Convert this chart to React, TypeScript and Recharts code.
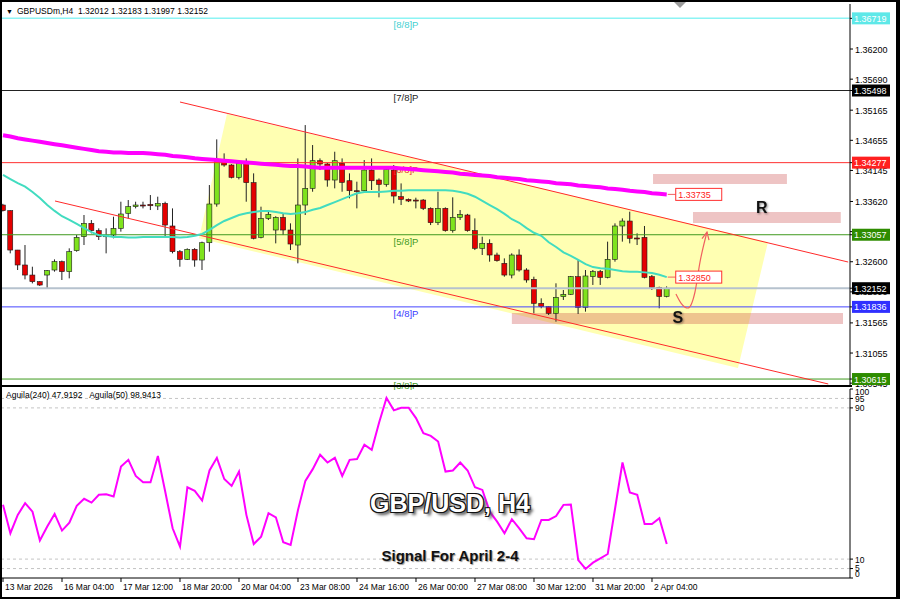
import React from "react";
import {
  ComposedChart,
  Bar,
  Line,
  Area,
  XAxis,
  YAxis,
  ReferenceLine,
  ReferenceArea,
  ReferenceDot,
} from "recharts";

// GBPUSD H4 candles (oldest -> newest)
const opens = [
  1.3356, 1.33464, 1.32798, 1.32545, 1.32375, 1.32263, 1.32375, 1.3246, 1.32601, 1.32432,
  1.32787, 1.33024, 1.3325, 1.33126, 1.3303, 1.33052, 1.33165, 1.33419, 1.33532, 1.3356,
  1.33571, 1.33543, 1.33588, 1.33205, 1.3277, 1.3264, 1.3281, 1.32629, 1.32922, 1.33577,
  1.34293, 1.34237, 1.34028, 1.34265, 1.33938, 1.33013, 1.33334, 1.33137, 1.33351, 1.33137,
  1.32883, 1.3356, 1.33842, 1.3431, 1.34254, 1.33983, 1.34265, 1.33971, 1.33802, 1.33802,
  1.34152, 1.33983, 1.33909, 1.34152, 1.33701, 1.33656, 1.33644, 1.33644, 1.33503, 1.33261,
  1.33503, 1.33126, 1.33351, 1.33391, 1.33126, 1.32827, 1.32911, 1.32714, 1.32573, 1.32375,
  1.32714, 1.3246, 1.32302, 1.31896, 1.3184, 1.31727, 1.32009, 1.32049, 1.32347, 1.31829,
  1.32347, 1.32432, 1.32336, 1.32641, 1.33205, 1.33289, 1.33002, 1.33013, 1.32347, 1.32167,
  1.32012,
];
const highs = [
  1.3358, 1.3347, 1.328, 1.32883, 1.32516, 1.3227, 1.3246, 1.3264, 1.3262, 1.32827,
  1.33052, 1.33391, 1.33306, 1.33165, 1.33165, 1.33362, 1.33616, 1.33644, 1.33616, 1.33616,
  1.33729, 1.33701, 1.33616, 1.33503, 1.32798, 1.32827, 1.3283, 1.3294, 1.33898, 1.34671,
  1.34434, 1.3425, 1.34293, 1.34349, 1.34096, 1.33532, 1.33447, 1.3337, 1.33419, 1.3325,
  1.34349, 1.34913, 1.34575, 1.34349, 1.3427, 1.34462, 1.34349, 1.34096, 1.33955, 1.34321,
  1.34349, 1.34011, 1.34208, 1.34237, 1.33926, 1.3367, 1.33684, 1.3366, 1.3352, 1.33785,
  1.3352, 1.3369, 1.33475, 1.3341, 1.33334, 1.33024, 1.32979, 1.32753, 1.32657, 1.32742,
  1.3281, 1.3249, 1.32347, 1.31981, 1.3185, 1.32235, 1.32122, 1.32359, 1.32629, 1.3246,
  1.3246, 1.3246, 1.3294, 1.3325, 1.33334, 1.33447, 1.33081, 1.33205, 1.32376, 1.32178,
  1.32183,
];
const lows = [
  1.3345, 1.32742, 1.3246, 1.32302, 1.32234, 1.3219, 1.3215, 1.32432, 1.32291, 1.32319,
  1.3277, 1.32883, 1.3308, 1.32968, 1.32742, 1.32996, 1.33109, 1.33334, 1.33503, 1.33503,
  1.33475, 1.33475, 1.33024, 1.32742, 1.32516, 1.32629, 1.32516, 1.3246, 1.3277, 1.33532,
  1.34208, 1.34011, 1.33994, 1.33616, 1.32979, 1.32996, 1.33306, 1.32911, 1.33052, 1.32798,
  1.32573, 1.33391, 1.33785, 1.34152, 1.3387, 1.33842, 1.33785, 1.33673, 1.33503, 1.33785,
  1.33814, 1.3369, 1.3387, 1.33588, 1.3356, 1.3361, 1.33503, 1.33475, 1.33221, 1.33221,
  1.33109, 1.33092, 1.33306, 1.33109, 1.32798, 1.32714, 1.32601, 1.32601, 1.32347, 1.32319,
  1.32432, 1.32246, 1.31727, 1.31812, 1.31699, 1.31586, 1.31953, 1.32038, 1.31716, 1.31755,
  1.32207, 1.32207, 1.32319, 1.32601, 1.3294, 1.32911, 1.32883, 1.32319, 1.32122, 1.31812,
  1.31997,
];
const closes = [
  1.33464, 1.32798, 1.32545, 1.32375, 1.32263, 1.32206, 1.32449, 1.32601, 1.32432, 1.3277,
  1.33013, 1.3325, 1.33126, 1.33024, 1.3304, 1.33165, 1.33408, 1.33532, 1.3356, 1.33555,
  1.33548, 1.33588, 1.33221, 1.3277, 1.3264, 1.3281, 1.32629, 1.32922, 1.33577, 1.34293,
  1.34237, 1.34028, 1.34265, 1.33938, 1.32996, 1.33334, 1.33402, 1.33351, 1.33137, 1.329,
  1.3356, 1.33842, 1.3431, 1.34254, 1.33983, 1.3431, 1.33943, 1.33802, 1.33796, 1.34152,
  1.33971, 1.33909, 1.34163, 1.33712, 1.33656, 1.33628, 1.3364, 1.33503, 1.33261, 1.33503,
  1.33126, 1.33351, 1.33402, 1.33126, 1.32827, 1.32911, 1.32714, 1.32618, 1.32375, 1.32714,
  1.3246, 1.32291, 1.31896, 1.3184, 1.31727, 1.31998, 1.32049, 1.32347, 1.31829, 1.32359,
  1.32432, 1.32336, 1.32641, 1.33205, 1.33289, 1.32996, 1.32996, 1.32336, 1.32167, 1.32012,
  1.32152,
];

// moving averages (magenta = slow, turquoise = fast)
const slowMA = [
  1.3474, 1.3472, 1.3469, 1.3467, 1.3465, 1.3463, 1.3461, 1.3459, 1.3457, 1.3455,
  1.3453, 1.3451, 1.3449, 1.3447, 1.3446, 1.3445, 1.3445, 1.3444, 1.3444, 1.3444,
  1.3443, 1.3442, 1.3441, 1.3439, 1.3438, 1.3437, 1.3435, 1.3434, 1.3433, 1.3432,
  1.3431, 1.343, 1.3429, 1.3428, 1.3427, 1.3426, 1.3425, 1.3424, 1.3423, 1.3422,
  1.3422, 1.3421, 1.342, 1.3419, 1.3419, 1.3419, 1.3419, 1.3419, 1.3419, 1.3419,
  1.3419, 1.3419, 1.3419, 1.3419, 1.3418, 1.3417, 1.3416, 1.3415, 1.3414, 1.3413,
  1.3412, 1.3411, 1.3409, 1.3408, 1.3407, 1.3406, 1.3405, 1.3403, 1.3402, 1.3401,
  1.34, 1.3398, 1.3397, 1.3396, 1.3395, 1.3393, 1.3392, 1.3391, 1.3389, 1.3388,
  1.3387, 1.3386, 1.3384, 1.3383, 1.3382, 1.338, 1.3379, 1.3378, 1.3376, 1.3375,
  1.3374,
];
const fastMA = [
  1.3407, 1.34, 1.3393, 1.3387, 1.3378, 1.3368, 1.3356, 1.3346, 1.3337, 1.3331,
  1.3324, 1.3317, 1.331, 1.3305, 1.3304, 1.3302, 1.3302, 1.3301, 1.3301, 1.3302,
  1.3302, 1.3302, 1.3302, 1.3302, 1.3301, 1.3302, 1.3304, 1.3307, 1.3314, 1.3322,
  1.3329, 1.3334, 1.3339, 1.3342, 1.3344, 1.3346, 1.3346, 1.3344, 1.3342, 1.3341,
  1.3342, 1.3344, 1.3348, 1.3351, 1.3356, 1.3361, 1.3366, 1.3371, 1.3376, 1.3378,
  1.3378, 1.3378, 1.3379, 1.338, 1.338, 1.3381, 1.3381, 1.3381, 1.3381, 1.3381,
  1.3381, 1.338, 1.3378, 1.3375, 1.337, 1.3363, 1.3356, 1.3349, 1.3341, 1.3332,
  1.3326, 1.3317, 1.3309, 1.3304, 1.3293, 1.3285, 1.3276, 1.327, 1.3263, 1.3256,
  1.3251, 1.3249, 1.3248, 1.3246, 1.3244, 1.3243, 1.3243, 1.3242, 1.3241, 1.3238,
  1.3234,
];

// Aguila oscillator (lower panel)
const aguila = [
  38.7, 23.7, 33.4, 39.6, 35.1, 19.8, 27.2, 33.9, 25.1, 29.3,
  38.2, 41.9, 39.9, 44.0, 44.3, 43.1, 59.0, 62.5, 54.0, 50.7,
  50.7, 64.6, 45.6, 26.3, 16.6, 48.0, 46.1, 41.0, 56.9, 63.6,
  52.4, 48.7, 56.3, 33.4, 18.0, 21.9, 34.3, 32.1, 18.9, 17.5,
  36.0, 51.4, 57.6, 65.2, 61.1, 63.6, 54.0, 62.5, 62.9, 70.5,
  67.8, 82.3, 95.2, 88.7, 90.1, 90.1, 84.6, 76.6, 75.2, 72.2,
  56.3, 56.9, 61.1, 56.9, 48.0, 46.6, 35.1, 29.8, 23.7, 31.1,
  26.3, 21.0, 20.5, 30.7, 30.7, 32.8, 38.7, 38.9, 9.5, 4.8,
  8.1, 10.4, 12.7, 36.9, 61.1, 45.2, 44.0, 28.6, 28.6, 31.6,
  18.0,
];

const timeTickIdx = [0, 8, 16, 24, 32, 40, 48, 56, 64, 72, 80, 88];
const timeTickText = [
  "13 Mar 2026", "16 Mar 04:00", "17 Mar 12:00", "18 Mar 20:00", "20 Mar 04:00", "23 Mar 08:00",
  "24 Mar 16:00", "26 Mar 00:00", "27 Mar 08:00", "30 Mar 12:00", "31 Mar 20:00", "2 Apr 04:00",
];

const priceTicks = [
  1.362, 1.3569, 1.35165, 1.34655, 1.34145, 1.3362, 1.3311, 1.326, 1.3209, 1.31565, 1.31055, 1.30545,
];
const aguilaTicks = [0, 5, 10, 90, 95, 100];
const aguilaGuides = [95, 90, 10, 5];

// Murrey math levels
const levelPrices = [1.36719, 1.35498, 1.34277, 1.33057, 1.31836, 1.30615];
const levelNames = ["[8/8]P", "[7/8]P", "[6/8]P", "[5/8]P", "[4/8]P", "[3/8]P"];
const levelLine = ["#8cf4f4", "#222222", "#ff3030", "#3f9a1f", "#4646ff", "#3f9a1f"];
const levelText = ["#44d0d0", "#222222", "#e83030", "#3f9a1f", "#3a3aff", "#3f9a1f"];
const levelTag = ["#5ee8e8", "#000000", "#ff2020", "#2e8c00", "#3030ff", "#2e8c00"];

// channel (index, price)
const upperChannel = [{ i: 24.0, p: 1.35303 }, { i: 114.6, p: 1.32595 }];
const lowerChannel = [{ i: 7.05, p: 1.33628 }, { i: 111.9, p: 1.30531 }];
const channelFill = [
  { i: 26.58, band: [1.32999, 1.32999] },
  { i: 30.37, band: [1.32885, 1.351] },
  { i: 99.66, band: [1.30801, 1.33054] },
  { i: 103.73, band: [1.32934, 1.32934] },
];

// resistance / support zones [x1, x2, y1, y2]
const zoneR1 = [88.14, 106.3, 1.33915, 1.34085];
const zoneR2 = [93.56, 113.6, 1.33255, 1.33441];
const zoneS = [69.0, 113.9, 1.31546, 1.31732];

// projected path arrow
const arrowPath = [
  { i: 91.25, p: 1.32054 },
  { i: 91.93, p: 1.31901 },
  { i: 92.88, p: 1.31817 },
  { i: 93.83, p: 1.32088 },
  { i: 94.51, p: 1.32595 },
  { i: 95.46, p: 1.33103 },
];
const rMark = { i: 102.9, p: 1.33526 };
const sMark = { i: 91.5, p: 1.31648 };
const slowTag = "1.33735";
const fastTag = "1.32850";

const X_DOMAIN: [number, number] = [-0.136, 114.85];
const PRICE_DOMAIN: [number, number] = [1.30514, 1.36962];
const FONT = "'Liberation Sans', Arial, sans-serif";

const candles = opens.map((o, i) => ({
  i,
  o,
  h: highs[i],
  l: lows[i],
  c: closes[i],
  slow: slowMA[i],
  fast: fastMA[i],
}));
const aguilaRows = aguila.map((v, i) => ({ i, v }));
const lastIdx = closes.length - 1;
const lastPrice = closes[lastIdx];

// right-axis tags drawn last so they sit on top of the plain price labels
const tagPrices = [...levelPrices, lastPrice];
const tagColors = [...levelTag, "#000000"];
const axisTicks = [...priceTicks, ...tagPrices];

function Candle(props: any) {
  const { x, y, width, height, payload } = props;
  if (payload == null || x == null) return <g />;
  const { o, h, l, c } = payload;
  const mid = x + width / 2;
  const span = h - l || 1e-9;
  const py = (v: number) => y + ((h - v) / span) * height;
  const top = py(Math.max(o, c));
  const bot = py(Math.min(o, c));
  const up = c >= o;
  return (
    <g>
      <line x1={mid} x2={mid} y1={y} y2={y + height} stroke="#222" strokeWidth={1} />
      <rect
        x={mid - 2.5}
        y={top}
        width={5}
        height={Math.max(bot - top, 1)}
        fill={up ? "#7fe31d" : "#e40000"}
        stroke="#1a1a1a"
        strokeWidth={0.6}
      />
    </g>
  );
}

function PriceTick(props: any) {
  const { x, y, payload } = props;
  const v = payload.value;
  const k = tagPrices.indexOf(v);
  if (k >= 0) {
    return (
      <g>
        <rect x={x - 3} y={y - 6} width={38} height={12} fill={tagColors[k]} />
        <text x={x - 1} y={y + 3.5} fontSize={9} fill="#fff" fontFamily={FONT}>
          {v.toFixed(5)}
        </text>
      </g>
    );
  }
  return (
    <text x={x} y={y + 3.5} fontSize={9} fill="#000" fontFamily={FONT}>
      {v.toFixed(5)}
    </text>
  );
}

function AguilaTick(props: any) {
  const { x, y, payload } = props;
  const v = payload.value;
  const dy = v === 100 ? 6 : v === 0 ? -1 : v === 5 ? 2.5 : 3.5;
  return (
    <text x={x} y={y + dy} fontSize={8.5} fill="#000" fontFamily={FONT}>
      {v}
    </text>
  );
}

function levelName(k: number) {
  return (props: any) => {
    const vb = props.viewBox || {};
    return (
      <text x={vb.x + 404} y={vb.y + 10} fontSize={9.5} fill={levelText[k]} textAnchor="middle" fontFamily={FONT}>
        {levelNames[k]}
      </text>
    );
  };
}

function maTag(text: string) {
  return (p: any) => (
    <g>
      <line x1={p.cx + 1} x2={p.cx + 9} y1={p.cy} y2={p.cy} stroke="#f06060" strokeWidth={1} />
      <rect x={p.cx + 9} y={p.cy - 6} width={46} height={12} fill="#fff" stroke="#ff3030" strokeWidth={1} />
      <text x={p.cx + 11.5} y={p.cy + 3.5} fontSize={9} fill="#ff2020" fontFamily={FONT}>
        {text}
      </text>
    </g>
  );
}

function letterMark(letter: string) {
  return (p: any) => (
    <text
      x={p.cx}
      y={p.cy}
      textAnchor="middle"
      dominantBaseline="central"
      fontSize={16}
      fontWeight="bold"
      fill="#111"
      fontFamily={FONT}
      style={{ filter: "drop-shadow(1px 1px 1px rgba(0,0,0,0.45))" }}
    >
      {letter}
    </text>
  );
}

function ArrowDot(props: any) {
  const { cx, cy, index } = props;
  if (index !== arrowPath.length - 1 || cx == null) return <g key={index} />;
  return (
    <path
      key={index}
      d={`M${cx - 5} ${cy + 6.5} L${cx} ${cy} L${cx + 2} ${cy + 8}`}
      fill="none"
      stroke="#f06060"
      strokeWidth={1.2}
    />
  );
}

function TimeTick(props: any) {
  const { x, y, payload } = props;
  const k = timeTickIdx.indexOf(payload.value);
  return (
    <text x={x + 2} y={y + 8} fontSize={8.5} fill="#000" textAnchor="start" fontFamily={FONT}>
      {k >= 0 ? timeTickText[k] : ""}
    </text>
  );
}

const txt: React.CSSProperties = { position: "absolute", whiteSpace: "nowrap", fontFamily: FONT };

export default function App() {
  return (
    <div
      style={{
        position: "fixed",
        left: 0,
        top: 0,
        width: 900,
        height: 599,
        background: "#fff",
        overflow: "hidden",
        fontFamily: FONT,
      }}
    >
      <div style={{ position: "absolute", left: 0, top: 0 }}>
        <ComposedChart width={900} height={390} data={candles} margin={{ top: 4, right: 0, bottom: 5, left: 2 }}>
          <XAxis dataKey="i" type="number" domain={X_DOMAIN} allowDataOverflow hide />
          <YAxis
            orientation="right"
            width={50}
            domain={PRICE_DOMAIN}
            allowDataOverflow
            ticks={axisTicks}
            interval={0}
            tick={(p: any) => <PriceTick {...p} />}
            tickSize={3}
            tickMargin={2}
            axisLine={{ stroke: "#000" }}
            tickLine={{ stroke: "#000" }}
          />
          <Area
            data={channelFill}
            dataKey="band"
            type="linear"
            fill="#ffffb2"
            fillOpacity={1}
            stroke="none"
            isAnimationActive={false}
          />
          {levelPrices.map((p, k) => (
            <ReferenceLine
              key={levelNames[k]}
              y={p}
              stroke={levelLine[k]}
              strokeWidth={k === 0 ? 1.5 : 1}
              label={levelName(k)}
            />
          ))}
          <ReferenceLine y={lastPrice} stroke="#b6c2ce" strokeWidth={2} />
          <ReferenceLine segment={[{ x: upperChannel[0].i, y: upperChannel[0].p }, { x: upperChannel[1].i, y: upperChannel[1].p }]} stroke="#ff2a2a" strokeWidth={1} />
          <ReferenceLine segment={[{ x: lowerChannel[0].i, y: lowerChannel[0].p }, { x: lowerChannel[1].i, y: lowerChannel[1].p }]} stroke="#ff2a2a" strokeWidth={1} />
          {[zoneR1, zoneR2, zoneS].map((z, k) => (
            <ReferenceArea key={k} x1={z[0]} x2={z[1]} y1={z[2]} y2={z[3]} fill="#c83c3c" fillOpacity={0.3} stroke="none" />
          ))}
          <Line dataKey="slow" stroke="#ff00ff" strokeWidth={4} dot={false} isAnimationActive={false} />
          <Line dataKey="fast" stroke="#42dcc0" strokeWidth={2} dot={false} isAnimationActive={false} />
          <Bar dataKey={(d: any) => [d.l, d.h]} barSize={5} shape={(p: any) => <Candle {...p} />} isAnimationActive={false} />
          <Line
            data={arrowPath}
            dataKey="p"
            type="monotoneX"
            stroke="#f06060"
            strokeWidth={1.2}
            dot={(p: any) => <ArrowDot {...p} />}
            isAnimationActive={false}
          />
          <ReferenceDot x={lastIdx} y={slowMA[lastIdx]} r={0} shape={maTag(slowTag)} />
          <ReferenceDot x={lastIdx} y={fastMA[lastIdx]} r={0} shape={maTag(fastTag)} />
          <ReferenceDot x={rMark.i} y={rMark.p} r={0} shape={letterMark("R")} />
          <ReferenceDot x={sMark.i} y={sMark.p} r={0} shape={letterMark("S")} />
        </ComposedChart>
      </div>

      <div style={{ position: "absolute", left: 0, top: 386 }}>
        <ComposedChart width={900} height={213} data={aguilaRows} margin={{ top: 3, right: 0, bottom: 0, left: 2 }}>
          <XAxis
            dataKey="i"
            type="number"
            domain={X_DOMAIN}
            allowDataOverflow
            ticks={timeTickIdx}
            interval={0}
            height={21}
            tickSize={4}
            tickMargin={0}
            tick={(p: any) => <TimeTick {...p} />}
            axisLine={{ stroke: "#000" }}
            tickLine={{ stroke: "#000" }}
          />
          <YAxis
            orientation="right"
            width={50}
            domain={[0, 100]}
            ticks={aguilaTicks}
            interval={0}
            tick={(p: any) => <AguilaTick {...p} />}
            tickSize={3}
            tickMargin={2}
            axisLine={{ stroke: "#000" }}
            tickLine={{ stroke: "#000" }}
          />
          {aguilaGuides.map((g) => (
            <ReferenceLine key={g} y={g} stroke="#c4c4c4" strokeDasharray="3 3" />
          ))}
          <Line dataKey="v" stroke="#ff00ff" strokeWidth={2} dot={false} isAnimationActive={false} />
        </ComposedChart>
      </div>

      {/* panel separator */}
      <div style={{ position: "absolute", left: 0, top: 385, width: 852, height: 2, background: "#000" }} />

      {/* header */}
      <div style={{ ...txt, left: 6, top: 7, fontSize: 7, lineHeight: "9px" }}>▼</div>
      <div style={{ ...txt, left: 17, top: 7, fontSize: 8.5, lineHeight: "9px", color: "#000" }}>
        GBPUSDm,H4&nbsp; 1.32012 1.32183 1.31997 1.32152
      </div>
      <div
        style={{
          position: "absolute",
          left: 674,
          top: 2,
          width: 0,
          height: 0,
          borderLeft: "6px solid transparent",
          borderRight: "6px solid transparent",
          borderTop: "6px solid #9a9a9a",
        }}
      />

      {/* indicator caption */}
      <div style={{ ...txt, left: 6, top: 391, fontSize: 8.5, lineHeight: "9px", color: "#000" }}>
        Aguila(240) 47.9192&nbsp;&nbsp; Aguila(50) 98.9413
      </div>

      {/* watermark texts */}
      <div
        style={{
          ...txt,
          left: 0,
          width: 900,
          top: 491,
          textAlign: "center",
          fontSize: 25,
          lineHeight: "25px",
          fontWeight: "bold",
          color: "#fff",
          textShadow:
            "-1px -1px 0 #111, 1px -1px 0 #111, -1px 1px 0 #111, 1px 1px 0 #111, 3px 3px 3px #555",
        }}
      >
        GBP/USD, H4
      </div>
      <div
        style={{
          ...txt,
          left: 0,
          width: 900,
          top: 548,
          textAlign: "center",
          fontSize: 15,
          lineHeight: "15px",
          fontWeight: "bold",
          color: "#111",
          textShadow: "1px 1px 1px #999",
        }}
      >
        Signal For April 2-4
      </div>

      {/* outer frame */}
      <div
        style={{
          position: "absolute",
          left: 0,
          top: 0,
          width: 900,
          height: 599,
          boxSizing: "border-box",
          borderStyle: "solid",
          borderColor: "#000",
          borderWidth: "2px 4px 2px 2px",
          pointerEvents: "none",
        }}
      />
    </div>
  );
}
